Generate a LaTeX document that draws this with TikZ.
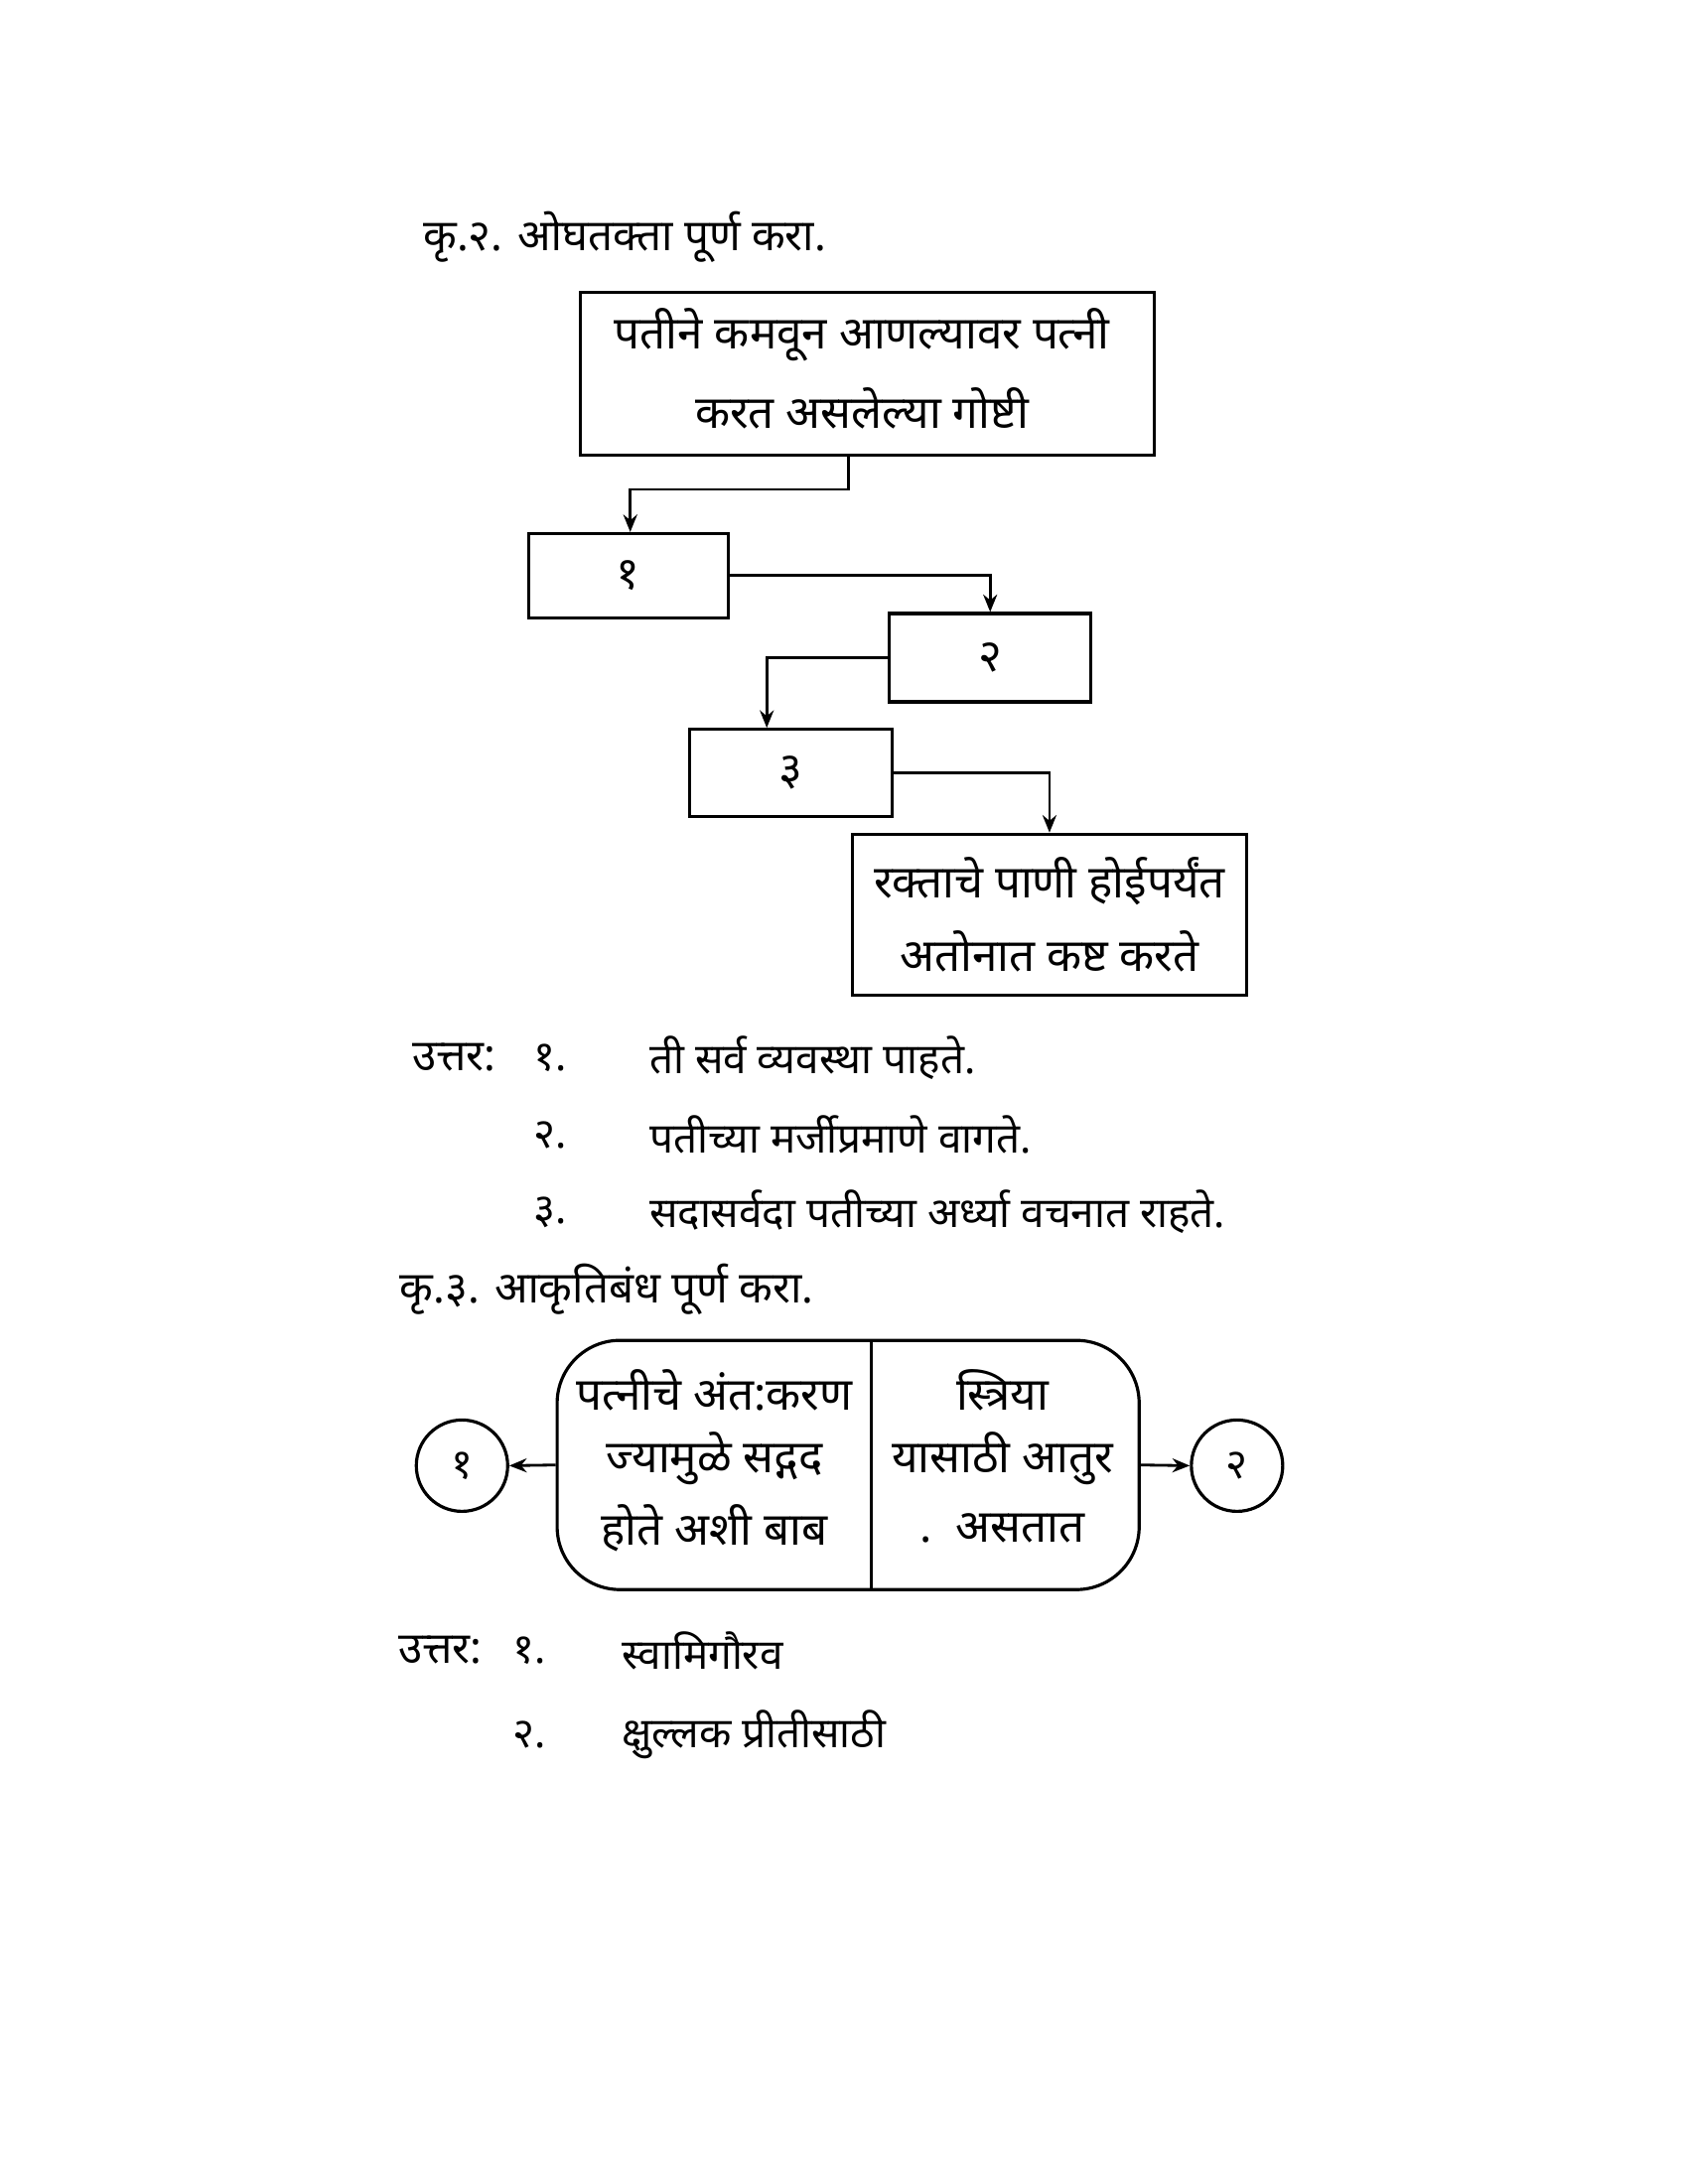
\documentclass[tikz,border=0pt]{standalone}
\usepackage{fontspec}
\newfontfamily\dev[Script=Devanagari]{Noto Sans}
\usetikzlibrary{arrows.meta}
\begin{document}
\begin{tikzpicture}[x=0.013889cm,y=-0.013889cm,
  box/.style={draw,line width=0.9pt,inner sep=0pt},
  bt/.style={font=\dev\bfseries\fontsize{13}{15}\selectfont},
  anst/.style={font=\dev\fontsize{12}{14}\selectfont,anchor=west},
  ah/.style={font=\dev\bfseries\fontsize{12.5}{14}\selectfont,anchor=west},
  con/.style={line width=0.8pt,-{Stealth[length=5pt,width=4pt]}}]
\useasboundingbox (0,0) rectangle (1224,1584);
\node[ah] (t1) at (298,172) {कृ.२. ओघतक्ता पूर्ण करा.};
\node[box,minimum width=5.78cm,minimum height=1.64cm] (b0) at (629,271) {};
\coordinate (b0s) at (615,330);
\node[bt] (b0a) at (625,243) {पतीने कमवून आणल्यावर पत्नी};
\node[bt] (b0b) at (625,296) {करत असलेल्या गोष्टी};
\node[box,minimum width=2.01cm,minimum height=0.847cm] (b1) at (455.5,417.5) {\dev\fontsize{13}{15}\selectfont १};
\node[box,minimum width=2.03cm,minimum height=0.889cm] (b2) at (718,477) {\dev\fontsize{13}{15}\selectfont २};
\node[box,minimum width=2.04cm,minimum height=0.875cm] (b3) at (573.5,560.5) {\dev\fontsize{13}{15}\selectfont ३};
\node[box,minimum width=3.97cm,minimum height=1.625cm] (b4) at (761,663.5) {};
\node[bt] (b4a) at (761,639) {रक्ताचे पाणी होईपर्यंत};
\node[bt] (b4b) at (761,690) {अतोनात कष्ट करते};
\draw[con] (b0s) |- (457,355) -- (b1.north -| 457,0);
\draw[con] (b1.east) -| (b2.north);
\draw[con] (b2.west) -| (b3.north -| 556,0);
\draw[con] (b3.east) -| (b4.north);
\node[ah] (u1) at (290,767) {उत्तर:};
\node[anst] (n1) at (378,767) {१.};
\node[anst] (a1) at (462,767) {ती सर्व व्यवस्था पाहते.};
\node[anst] (n2) at (378,823) {२.};
\node[anst] (a2) at (462,823) {पतीच्या मर्जीप्रमाणे वागते.};
\node[anst] (n3) at (378,879) {३.};
\node[anst] (a3) at (462,879) {सदासर्वदा पतीच्या अर्ध्या वचनात राहते.};
\node[ah] (t2) at (281,935) {कृ.३. आकृतिबंध पूर्ण करा.};
\node[draw,line width=0.9pt,rounded corners=18pt,minimum width=5.86cm,minimum height=2.51cm] (rb) at (615,1062.5) {};
\draw[line width=0.9pt] (632,972) -- (632,1153);
\node[bt] (l1) at (518,1008) {पत्नीचे अंत:करण};
\node[bt] (l2) at (518,1058) {ज्यामुळे सद्गद};
\node[bt] (l3) at (518,1108) {होते अशी बाब};
\node[bt] (r1) at (727,1008) {स्त्रिया};
\node[bt] (r2) at (727,1058) {यासाठी आतुर};
\node[bt] (r3) at (727,1108) {.\ \ असतात};
\node[draw,line width=0.9pt,circle,minimum size=0.92cm,inner sep=0pt] (c1) at (335,1063) {\dev\fontsize{12}{14}\selectfont १};
\node[draw,line width=0.9pt,circle,minimum size=0.92cm,inner sep=0pt] (c2) at (897,1063) {\dev\fontsize{12}{14}\selectfont २};
\draw[con] (rb.west) -- (c1.east);
\draw[con] (rb.east) -- (c2.west);
\node[ah] (u2) at (280,1197) {उत्तर:};
\node[anst] (m1) at (363,1197) {१.};
\node[anst] (s1) at (442,1197) {स्वामिगौरव};
\node[anst] (m2) at (363,1258) {२.};
\node[anst] (s2) at (442,1258) {क्षुल्लक प्रीतीसाठी};
\end{tikzpicture}
\end{document}
